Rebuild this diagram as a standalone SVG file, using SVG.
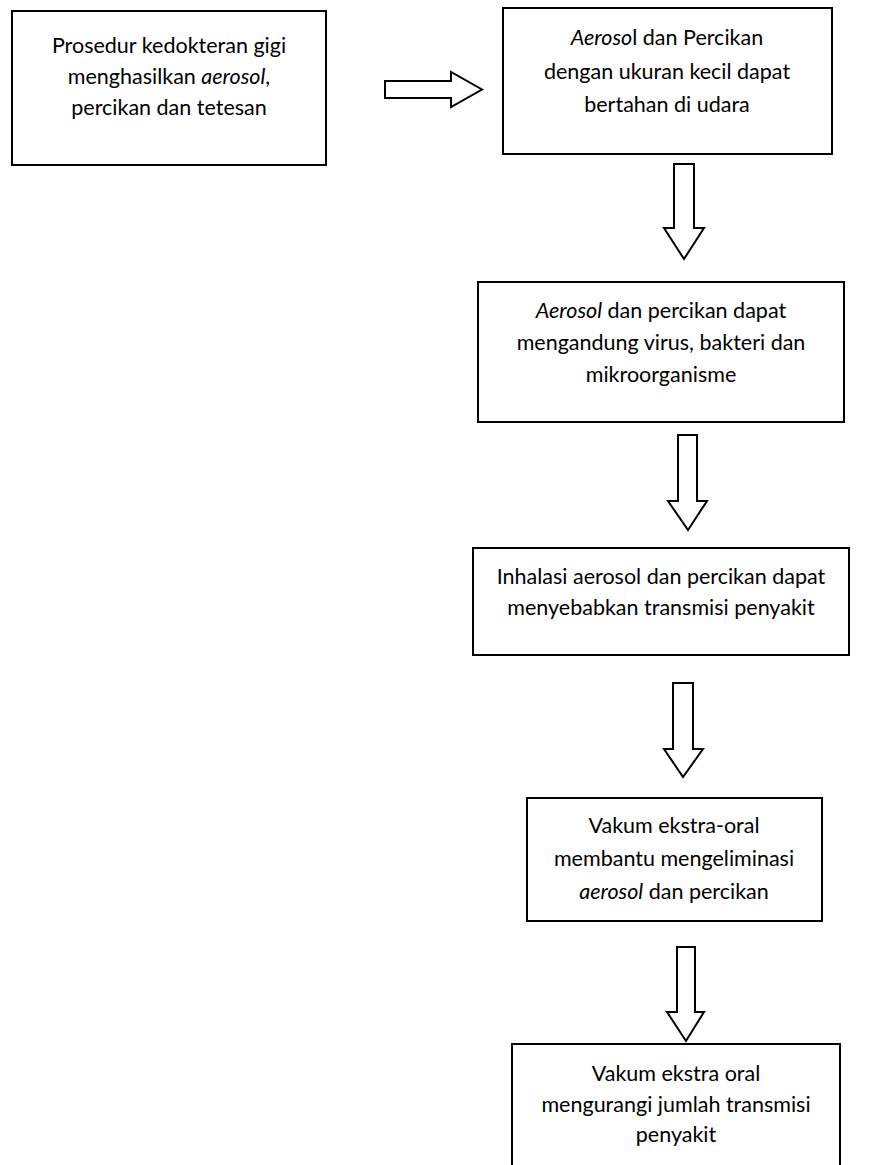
<svg xmlns="http://www.w3.org/2000/svg" width="894" height="1165" viewBox="0 0 894 1165">
  <style>
    .box { fill: #ffffff; stroke: #000000; stroke-width: 2; }
    .arrow { fill: #ffffff; stroke: #000000; stroke-width: 2; stroke-linejoin: miter; }
    .t { font-family: Lato, "Open Sans", "Liberation Sans", sans-serif; font-size: 21.5px; fill: #000000; text-anchor: middle; }
    .i { font-style: italic; }
  </style>
  <rect x="0" y="0" width="894" height="1165" fill="#ffffff"/>

  <g id="node1">
    <rect class="box" x="12" y="11" width="314" height="154"/>
    <text class="t" x="169" y="53">Prosedur kedokteran gigi</text>
    <text class="t" x="169" y="84">menghasilkan <tspan class="i">aerosol</tspan>,</text>
    <text class="t" x="169" y="115">percikan dan tetesan</text>
  </g>

  <g id="node2">
    <rect class="box" x="503" y="8" width="329" height="146"/>
    <text class="t" x="667" y="45"><tspan class="i">Aeroso</tspan>l dan Percikan</text>
    <text class="t" x="667" y="79">dengan ukuran kecil dapat</text>
    <text class="t" x="667" y="112">bertahan di udara</text>
  </g>

  <g id="node3">
    <rect class="box" x="478" y="282" width="366" height="140"/>
    <text class="t" x="661" y="318"><tspan class="i">Aerosol</tspan> dan percikan dapat</text>
    <text class="t" x="661" y="350">mengandung virus, bakteri dan</text>
    <text class="t" x="661" y="382">mikroorganisme</text>
  </g>

  <g id="node4">
    <rect class="box" x="473" y="548" width="376" height="107"/>
    <text class="t" x="661" y="584">Inhalasi aerosol dan percikan dapat</text>
    <text class="t" x="661" y="615">menyebabkan transmisi penyakit</text>
  </g>

  <g id="node5">
    <rect class="box" x="527" y="798" width="295" height="123"/>
    <text class="t" x="674" y="833">Vakum ekstra-oral</text>
    <text class="t" x="674" y="866">membantu mengeliminasi</text>
    <text class="t" x="674" y="899"><tspan class="i">aerosol</tspan> dan percikan</text>
  </g>

  <g id="node6">
    <path class="box" d="M512,1166 V1044 H840 V1166"/>
    <text class="t" x="676" y="1081">Vakum ekstra oral</text>
    <text class="t" x="676" y="1112">mengurangi jumlah transmisi</text>
    <text class="t" x="676" y="1142">penyakit</text>
  </g>

  <g id="connectors">
    <polygon class="arrow" points="385,81 451,81 451,72 482,89.5 451,107 451,98 385,98"/>
    <polygon class="arrow" points="674,164 694,164 694,228 704,228 684,259 664,228 674,228"/>
    <polygon class="arrow" points="678,435 697,435 697,501 707,501 688,530 668,501 678,501"/>
    <polygon class="arrow" points="673,683 693,683 693,749 703,749 683,777 664,749 673,749"/>
    <polygon class="arrow" points="677,947 695,947 695,1012 704,1012 686,1041 667,1012 677,1012"/>
  </g>
</svg>
